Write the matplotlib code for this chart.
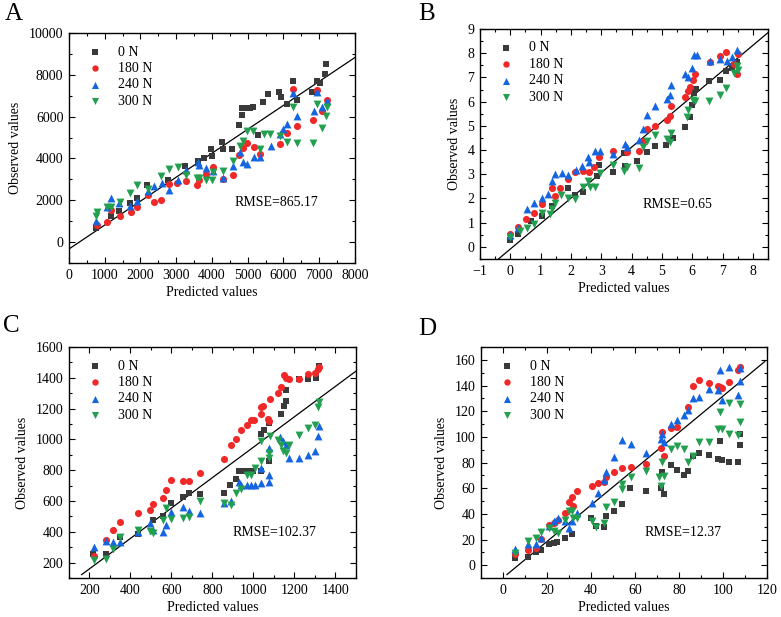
import matplotlib
matplotlib.use("Agg")
import matplotlib.pyplot as plt
from matplotlib.ticker import MultipleLocator, AutoMinorLocator

plt.rcParams['font.family'] = ['Liberation Serif', 'DejaVu Serif']
plt.rcParams['mathtext.fontset'] = 'stix'

series_labels = ['0 N', '180 N', '240 N', '300 N']
colors = ['#3a3a3a', '#f02828', '#1565e0', '#22a050']
markers = ['s', 'o', '^', 'v']
msizes = [24, 26, 32, 32]

# ---------------- Panel A ----------------
A_0N_x = [755, 1165, 1408, 1706, 1893, 2191, 2779, 3245, 3600, 3786, 3963, 4009, 4289, 4317, 4550, 4746, 4830, 4830, 4970, 5060, 5156, 5296, 5436, 5576, 5874, 5921, 6089, 6257, 6368, 6807, 6928, 7021, 7161, 7180]
A_0N_y = [670, 1260, 1500, 1850, 2090, 2740, 2965, 3620, 3890, 4000, 4450, 4140, 4810, 4450, 4450, 5610, 6070, 6390, 6390, 6400, 6470, 5130, 6710, 7080, 7160, 6950, 6600, 7710, 6810, 7160, 7710, 7590, 8030, 8510]
A_180N_x = [774, 1054, 1175, 1427, 1725, 1893, 2219, 2387, 2573, 2797, 3030, 3263, 3571, 3646, 3823, 4019, 4298, 4578, 4764, 4858, 4988, 5175, 5342, 5902, 6089, 6275, 6387, 6835, 6947, 7068, 7208]
A_180N_y = [830, 940, 1545, 1260, 1450, 1690, 2260, 1910, 2020, 2800, 2820, 2900, 2740, 2960, 3280, 3570, 3010, 3220, 4160, 4490, 4730, 4530, 4210, 4690, 5240, 7320, 5560, 5830, 7280, 6250, 6790]
A_240N_x = [755, 1054, 1184, 1410, 1716, 1893, 2219, 2378, 2592, 2807, 3049, 3273, 3599, 3646, 3823, 4019, 4317, 4578, 4783, 4858, 4970, 5175, 5342, 5641, 5902, 5977, 6107, 6275, 6387, 6853, 6947, 7068, 7208]
A_240N_y = [990, 1660, 2100, 1880, 1740, 1980, 2450, 2690, 2820, 2500, 2980, 3460, 3810, 3700, 3540, 3410, 3090, 3650, 4290, 3840, 3730, 4080, 4050, 4610, 5160, 5400, 5640, 7120, 6040, 6280, 7160, 6470, 6760]
A_300N_x = [755, 774, 1054, 1175, 1427, 1706, 1893, 2219, 2564, 2807, 3058, 3273, 3571, 3646, 3823, 3991, 4019, 4317, 4578, 4783, 4858, 4970, 5156, 5342, 5455, 5622, 5902, 6089, 6275, 6387, 6835, 6947, 7068, 7189, 7208]
A_300N_y = [1260, 1420, 1690, 1690, 1930, 2330, 2730, 2530, 3140, 3490, 3570, 3200, 3090, 3060, 2960, 2960, 3330, 3380, 3890, 4610, 4850, 5320, 5320, 4450, 5160, 5160, 5080, 4770, 6470, 4730, 4750, 6600, 5480, 6040, 6470]
A_line_x = [0, 8000]
A_line_y = [-330, 8830]

# ---------------- Panel B ----------------
B_0N_x = [0.00, 0.25, 0.67, 1.03, 1.36, 1.89, 2.13, 2.41, 2.85, 2.94, 3.38, 3.76, 3.79, 4.17, 4.50, 4.78, 5.14, 5.35, 5.77, 5.94, 5.99, 6.05, 6.14, 6.55, 6.93, 7.10, 7.30, 7.48]
B_0N_y = [0.30, 0.52, 1.08, 1.28, 1.70, 2.43, 2.15, 2.25, 2.91, 3.40, 3.11, 3.87, 3.33, 3.56, 3.94, 4.16, 4.21, 4.50, 4.94, 5.36, 5.88, 6.35, 6.53, 6.85, 6.88, 7.27, 7.39, 7.64]
B_180N_x = [0.00, 0.25, 0.53, 0.78, 1.05, 1.36, 1.47, 1.63, 1.91, 2.13, 2.41, 2.59, 2.76, 2.94, 3.38, 3.86, 4.23, 4.39, 4.50, 4.78, 5.17, 5.28, 5.31, 5.75, 5.85, 5.94, 6.02, 6.10, 6.58, 6.93, 7.12, 7.37, 7.48, 7.52]
B_180N_y = [0.52, 0.84, 1.17, 1.38, 1.77, 2.42, 2.11, 2.43, 2.79, 3.08, 3.12, 3.08, 3.29, 3.73, 3.95, 3.91, 3.98, 4.36, 4.88, 4.99, 5.26, 5.40, 5.84, 6.19, 6.44, 6.60, 6.88, 7.15, 7.64, 7.87, 8.07, 7.57, 7.15, 7.98]
B_240N_x = [0.00, 0.25, 0.55, 0.78, 1.03, 1.25, 1.36, 1.49, 1.69, 1.91, 2.15, 2.38, 2.57, 2.59, 2.79, 2.96, 3.38, 3.79, 3.84, 4.23, 4.39, 4.50, 4.78, 5.17, 5.28, 5.31, 5.75, 5.85, 5.99, 6.05, 6.16, 6.58, 6.93, 7.15, 7.32, 7.48]
B_240N_y = [0.50, 0.80, 1.56, 1.80, 2.04, 2.18, 2.71, 3.01, 3.04, 2.98, 3.19, 3.33, 3.73, 3.49, 3.95, 3.95, 3.84, 4.25, 4.12, 4.42, 4.88, 5.43, 5.84, 6.09, 6.26, 6.67, 7.15, 7.02, 7.39, 7.91, 7.91, 7.67, 7.78, 7.68, 7.85, 8.15]
B_300N_x = [0.00, 0.31, 0.55, 0.78, 1.05, 1.30, 1.36, 1.49, 1.66, 1.91, 2.13, 2.41, 2.57, 2.63, 2.79, 2.96, 3.38, 3.76, 3.84, 4.23, 4.39, 4.50, 4.78, 5.17, 5.28, 5.31, 5.83, 5.85, 6.02, 6.10, 6.55, 6.93, 7.12, 7.37, 7.48, 7.52]
B_300N_y = [0.41, 0.66, 0.77, 0.94, 1.38, 1.35, 1.56, 1.80, 2.15, 2.04, 1.98, 2.46, 2.71, 2.46, 2.46, 3.04, 3.40, 3.15, 3.29, 3.25, 4.12, 4.36, 4.63, 4.46, 4.32, 4.70, 5.36, 5.66, 6.05, 6.01, 6.01, 6.26, 6.56, 7.18, 7.46, 7.29]
B_line_x = [-0.44, 8.5]
B_line_y = [-0.55, 8.85]

# ---------------- Panel C ----------------
C_0N_x = [216, 281, 350, 436, 509, 561, 598, 655, 688, 740, 855, 886, 915, 932, 958, 980, 997, 1039, 1039, 1054, 1075, 1075, 1135, 1148, 1159, 1159, 1224, 1265, 1306, 1322]
C_0N_y = [259, 259, 367, 383, 476, 504, 585, 628, 654, 643, 654, 704, 741, 796, 796, 796, 796, 796, 1035, 1063, 1107, 857, 1165, 1215, 1252, 1320, 1389, 1389, 1400, 1476]
C_180N_x = [224, 281, 314, 350, 436, 493, 509, 561, 574, 598, 655, 688, 740, 855, 891, 915, 940, 967, 989, 1002, 1039, 1049, 1039, 1070, 1075, 1081, 1119, 1135, 1151, 1159, 1172, 1224, 1265, 1302, 1314, 1322]
C_180N_y = [243, 346, 411, 465, 520, 541, 578, 617, 672, 737, 730, 730, 785, 872, 965, 1002, 1063, 1096, 1128, 1128, 1209, 1215, 1165, 1133, 1117, 1265, 1302, 1343, 1417, 1400, 1389, 1389, 1422, 1433, 1454, 1470]
C_240N_x = [224, 281, 314, 350, 436, 493, 509, 561, 574, 598, 655, 688, 740, 855, 891, 932, 940, 967, 989, 1010, 1039, 1039, 1075, 1075, 1078, 1130, 1146, 1159, 1172, 1224, 1265, 1302, 1314, 1322]
C_240N_y = [302, 339, 335, 335, 400, 454, 411, 400, 443, 530, 563, 537, 520, 585, 600, 726, 704, 704, 704, 704, 720, 813, 770, 722, 943, 1013, 987, 965, 878, 878, 896, 922, 1020, 1085]
C_300N_x = [224, 281, 314, 350, 436, 493, 509, 561, 574, 598, 655, 688, 740, 855, 891, 915, 940, 967, 989, 1010, 1039, 1039, 1075, 1075, 1081, 1119, 1135, 1146, 1159, 1175, 1224, 1265, 1302, 1314, 1322]
C_300N_y = [215, 226, 287, 367, 411, 404, 389, 476, 556, 483, 487, 498, 600, 585, 574, 650, 676, 770, 770, 813, 857, 987, 911, 878, 1020, 998, 965, 922, 911, 965, 1026, 1074, 1096, 1209, 1243]
C_line_x = [162, 1500]
C_line_y = [122, 1443]

# ---------------- Panel D ----------------
D_0N_x = [5.6, 11.3, 15.1, 17.1, 20.7, 23.1, 24.6, 28.2, 31.4, 40.0, 42.3, 45.7, 46.8, 50.3, 54.0, 57.8, 64.9, 71.7, 72.1, 73.2, 76.2, 79.2, 82.2, 84.1, 86.3, 89.0, 93.6, 97.6, 98.8, 99.6, 102.8, 106.8, 107.6, 107.9]
D_0N_y = [5.8, 6.3, 10.5, 11.5, 16.7, 17.5, 18.3, 21.4, 24.6, 36.6, 30.6, 30.1, 38.4, 42.3, 47.6, 60.5, 57.5, 60.1, 72.4, 55.4, 78.4, 74.5, 70.6, 73.7, 84.7, 87.3, 86.0, 82.9, 96.7, 82.1, 80.2, 80.2, 102.5, 93.3]
D_180N_x = [5.6, 11.3, 15.1, 17.1, 20.7, 23.1, 24.9, 28.2, 30.2, 31.4, 31.7, 33.7, 40.3, 43.0, 45.7, 46.8, 50.3, 54.0, 58.1, 64.9, 71.7, 72.1, 73.2, 76.2, 79.2, 84.1, 86.3, 89.0, 93.6, 97.6, 98.8, 99.6, 102.8, 106.8, 107.6]
D_180N_y = [8.4, 11.5, 13.6, 20.1, 31.4, 32.7, 35.3, 40.3, 48.9, 53.3, 46.3, 57.5, 62.0, 63.8, 64.6, 68.5, 72.4, 75.5, 76.3, 78.9, 91.0, 103.8, 84.7, 107.2, 107.7, 123.4, 139.8, 144.3, 142.2, 139.6, 138.5, 137.8, 143.0, 152.1, 154.2]
D_240N_x = [5.6, 11.3, 15.1, 17.1, 20.7, 23.1, 24.9, 28.2, 30.2, 31.4, 33.7, 40.3, 43.0, 45.7, 46.8, 50.3, 54.0, 58.1, 64.9, 71.7, 72.1, 73.2, 76.2, 79.2, 82.2, 84.1, 86.3, 89.0, 93.6, 97.6, 98.8, 99.6, 102.8, 106.8, 107.6, 107.9]
D_240N_y = [12.3, 16.2, 16.7, 20.9, 30.6, 34.5, 37.1, 34.5, 28.8, 34.5, 40.3, 48.1, 55.9, 66.4, 72.4, 84.2, 97.8, 94.1, 87.3, 98.5, 102.5, 95.9, 109.8, 113.4, 116.8, 120.8, 129.9, 130.7, 137.0, 136.5, 152.1, 128.6, 154.2, 132.5, 153.4, 143.5]
D_300N_x = [5.6, 11.3, 15.1, 17.1, 20.7, 23.1, 24.9, 28.2, 30.2, 31.4, 31.7, 33.7, 40.3, 42.3, 45.7, 46.8, 50.3, 54.0, 54.0, 58.1, 64.9, 70.9, 71.7, 72.1, 73.2, 76.2, 79.2, 82.2, 84.1, 86.3, 89.0, 93.6, 97.6, 98.8, 99.6, 102.8, 102.8, 106.8, 107.6, 107.9]
D_300N_y = [9.7, 18.8, 20.9, 26.1, 28.8, 26.7, 25.4, 35.0, 42.3, 42.3, 37.1, 37.1, 34.5, 29.8, 33.2, 45.0, 48.9, 63.3, 59.3, 68.5, 73.7, 68.5, 61.4, 80.2, 69.8, 90.7, 92.5, 90.2, 80.2, 84.7, 95.7, 95.7, 106.4, 119.5, 106.4, 126.0, 102.5, 101.2, 111.6, 125.5]
D_line_x = [1.8, 119]
D_line_y = [-7.3, 158.7]

panels = [
    dict(letter='A', rect=[0.0883, 0.5737, 0.3662, 0.3728],
         xs=[A_0N_x, A_180N_x, A_240N_x, A_300N_x], ys=[A_0N_y, A_180N_y, A_240N_y, A_300N_y],
         lx=A_line_x, ly=A_line_y, xlim=(0, 8000), ylim=(-1000, 10000), xmaj=1000, ymaj=2000,
         rmse='RMSE=865.17', rmse_pos=(0.58, 0.25), letter_pos=(0.006, 0.995)),
    dict(letter='B', rect=[0.6146, 0.5802, 0.3688, 0.3728],
         xs=[B_0N_x, B_180N_x, B_240N_x, B_300N_x], ys=[B_0N_y, B_180N_y, B_240N_y, B_300N_y],
         lx=B_line_x, ly=B_line_y, xlim=(-1, 8.5), ylim=(-0.5, 9), xmaj=1, ymaj=1,
         rmse='RMSE=0.65', rmse_pos=(0.565, 0.22), letter_pos=(0.536, 0.995)),
    dict(letter='C', rect=[0.0883, 0.0632, 0.3674, 0.3744],
         xs=[C_0N_x, C_180N_x, C_240N_x, C_300N_x], ys=[C_0N_y, C_180N_y, C_240N_y, C_300N_y],
         lx=C_line_x, ly=C_line_y, xlim=(100, 1500), ylim=(100, 1600), xmaj=200, ymaj=200,
         rmse='RMSE=102.37', rmse_pos=(0.57, 0.18), letter_pos=(0.004, 0.489)),
    dict(letter='D', rect=[0.6159, 0.0632, 0.3662, 0.3744],
         xs=[D_0N_x, D_180N_x, D_240N_x, D_300N_x], ys=[D_0N_y, D_180N_y, D_240N_y, D_300N_y],
         lx=D_line_x, ly=D_line_y, xlim=(-10, 120), ylim=(-10, 170), xmaj=20, ymaj=20,
         rmse='RMSE=12.37', rmse_pos=(0.57, 0.18), letter_pos=(0.536, 0.485)),
]

fig = plt.figure(figsize=(7.81, 6.17), dpi=100)
fs = 10
for p in panels:
    ax = fig.add_axes(p['rect'])
    for i in range(4):
        ax.scatter(p['xs'][i], p['ys'][i], marker=markers[i], s=msizes[i], color=colors[i],
                   linewidths=0, label=series_labels[i], zorder=3)
    ax.plot(p['lx'], p['ly'], color='black', lw=0.9, zorder=2)
    ax.set_xlim(*p['xlim'])
    ax.set_ylim(*p['ylim'])
    ax.xaxis.set_major_locator(MultipleLocator(p['xmaj']))
    ax.yaxis.set_major_locator(MultipleLocator(p['ymaj']))
    ax.xaxis.set_minor_locator(AutoMinorLocator(2))
    ax.yaxis.set_minor_locator(AutoMinorLocator(2))
    ax.tick_params(which='both', direction='in', top=True, right=True, labelsize=fs, width=0.8)
    ax.tick_params(which='major', length=4, pad=4)
    ax.tick_params(which='minor', length=2.2)
    for sp in ax.spines.values():
        sp.set_linewidth(1.0)
    ax.set_xlabel('Predicted values', fontsize=fs, labelpad=3)
    ax.set_ylabel('Observed values', fontsize=fs, labelpad=5)
    ax.text(p['rmse_pos'][0], p['rmse_pos'][1], p['rmse'], transform=ax.transAxes, fontsize=fs)
    ax.legend(loc='upper left', frameon=False, fontsize=fs, handletextpad=0.6,
              labelspacing=0.25, borderaxespad=0.5, scatterpoints=1, markerscale=0.9)
    fig.text(p['letter_pos'][0], p['letter_pos'][1], p['letter'], fontsize=18, va='top', ha='left')

fig.savefig('out.png', dpi=100)
